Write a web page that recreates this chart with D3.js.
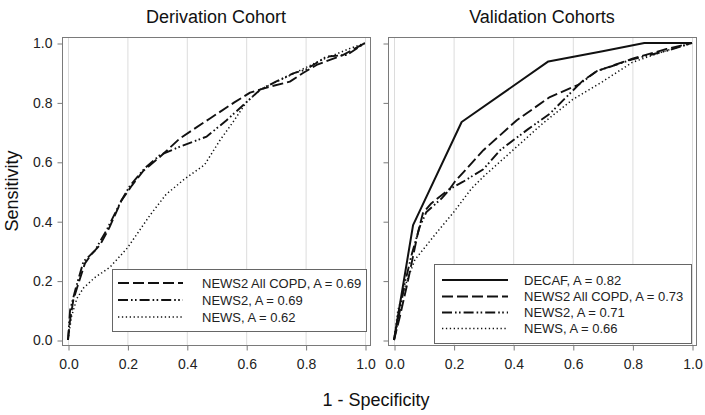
<!DOCTYPE html>
<html>
<head>
<meta charset="utf-8">
<script src="https://cdn.jsdelivr.net/npm/d3@7/dist/d3.min.js"></script>
<style>
  html, body { margin: 0; padding: 0; background: #fff; }
  svg { display: block; font-family: "Liberation Sans", Arial, sans-serif; }
</style>
</head>
<body>
<svg id="chart" width="705" height="415"></svg>
<script>
// ---------- DATA ----------
const tickValues = [0.0, 0.2, 0.4, 0.6, 0.8, 1.0];
const panelTitles = ["Derivation Cohort", "Validation Cohorts"];
const xAxisTitle = "1 - Specificity";
const yAxisTitle = "Sensitivity";

// Derivation cohort  [1-specificity, sensitivity]
const derivNews2AllCopd = [[0,0],[0.006,0.06],[0.018,0.135],[0.035,0.19],[0.057,0.258],[0.08,0.29],[0.108,0.32],[0.14,0.38],[0.18,0.47],[0.215,0.52],[0.254,0.57],[0.31,0.617],[0.377,0.679],[0.478,0.746],[0.56,0.8],[0.613,0.833],[0.68,0.853],[0.747,0.87],[0.79,0.898],[0.837,0.926],[0.927,0.96],[1,1]];
const derivNews2 = [[0,0],[0.007,0.10],[0.025,0.17],[0.052,0.264],[0.09,0.30],[0.13,0.37],[0.18,0.47],[0.209,0.52],[0.26,0.58],[0.31,0.623],[0.377,0.651],[0.467,0.685],[0.534,0.74],[0.60,0.80],[0.646,0.842],[0.70,0.87],[0.758,0.898],[0.80,0.91],[0.87,0.954],[0.94,0.96],[1,1]];
const derivNews = [[0,0],[0.012,0.08],[0.03,0.14],[0.052,0.175],[0.09,0.21],[0.141,0.245],[0.2,0.31],[0.276,0.42],[0.33,0.49],[0.39,0.54],[0.46,0.59],[0.51,0.67],[0.56,0.74],[0.6,0.80],[0.65,0.845],[0.75,0.892],[0.84,0.937],[0.95,0.982],[1,1]];

// Validation cohorts
const valDecaf = [[0,0],[0.064,0.387],[0.227,0.734],[0.518,0.938],[0.70,0.972],[0.84,1.0],[1,1]];
const valNews2AllCopd = [[0,0],[0.02,0.08],[0.047,0.20],[0.08,0.36],[0.097,0.427],[0.125,0.46],[0.188,0.51],[0.204,0.533],[0.30,0.639],[0.412,0.74],[0.523,0.818],[0.62,0.86],[0.635,0.874],[0.68,0.905],[0.80,0.947],[0.915,0.98],[1,1]];
const valNews2 = [[0,0],[0.02,0.10],[0.036,0.19],[0.06,0.29],[0.086,0.38],[0.108,0.43],[0.16,0.477],[0.19,0.51],[0.232,0.533],[0.30,0.575],[0.356,0.639],[0.45,0.71],[0.523,0.762],[0.62,0.86],[0.68,0.905],[0.80,0.945],[0.92,0.975],[1,1]];
const valNews = [[0,0],[0.013,0.10],[0.04,0.19],[0.07,0.27],[0.15,0.37],[0.2,0.43],[0.26,0.51],[0.3,0.55],[0.4,0.64],[0.5,0.73],[0.6,0.81],[0.7,0.87],[0.8,0.935],[0.9,0.97],[1,1]];

const derivLabels = ["NEWS2 All COPD, A = 0.69", "NEWS2, A = 0.69", "NEWS, A = 0.62"];
const valLabels = ["DECAF, A = 0.82", "NEWS2 All COPD, A = 0.73", "NEWS2, A = 0.71", "NEWS, A = 0.66"];

// ---------- STYLES ----------
const styles = {
  solid:   { dash: null, width: 2 },
  dashed:  { dash: "11,4", width: 1.9 },
  dashdot: { dash: "10,3,1.6,2.4,1.6,3", width: 1.9 },
  dotted:  { dash: "1.3,2.6", width: 1.5 }
};

const svg = d3.select("#chart");

const panels = [
  { left: 62, right: 370, x0: 68, x1: 365, title: panelTitles[0], labels: true,
    series: [derivNews2AllCopd, derivNews2, derivNews],
    styleKeys: ["dashed", "dashdot", "dotted"], legend: derivLabels,
    legendBox: { x: 112, y: 269, w: 254, h: 62, textX: 202, sx0: 118, sx1: 183, rowY: [283, 300, 317] } },
  { left: 388, right: 696, x0: 394, x1: 692, title: panelTitles[1], labels: false,
    series: [valDecaf, valNews2AllCopd, valNews2, valNews],
    styleKeys: ["solid", "dashed", "dashdot", "dotted"], legend: valLabels,
    legendBox: { x: 434, y: 264, w: 257, h: 79, textX: 524, sx0: 442, sx1: 508, rowY: [280, 296.5, 312.5, 328.5] } }
];

const plotTop = 37, plotBottom = 345;
const yScale = d3.scaleLinear().domain([0, 1]).range([340, 43]);

panels.forEach((p, i) => {
  const x = d3.scaleLinear().domain([0, 1]).range([p.x0, p.x1]);
  const g = svg.append("g");

  // grid (vertical only)
  g.selectAll("line.grid").data(tickValues).enter().append("line")
    .attr("x1", d => x(d) + 0.5).attr("x2", d => x(d) + 0.5)
    .attr("y1", plotTop).attr("y2", plotBottom)
    .attr("stroke", "#dcdcdc").attr("stroke-width", 1);

  // clip
  const clipId = "clip" + i;
  svg.append("clipPath").attr("id", clipId).append("rect")
    .attr("x", p.left).attr("y", plotTop).attr("width", p.right - p.left).attr("height", plotBottom - plotTop);

  // curves
  const line = d3.line().x(d => x(d[0])).y(d => yScale(d[1]));
  p.series.forEach((s, k) => {
    const st = styles[p.styleKeys[k]];
    g.append("path").datum(s)
      .attr("clip-path", `url(#${clipId})`)
      .attr("d", line)
      .attr("fill", "none")
      .attr("stroke", "#111")
      .attr("stroke-width", st.width)
      .attr("stroke-linejoin", "round")
      .attr("stroke-dasharray", st.dash);
  });

  // frame
  g.append("rect").attr("x", p.left + 0.5).attr("y", plotTop + 0.5)
    .attr("width", p.right - p.left).attr("height", plotBottom - plotTop)
    .attr("fill", "none").attr("stroke", "#7a7a7a").attr("stroke-width", 1);

  // x axis
  const xAxis = d3.axisBottom(x).tickValues(tickValues).tickFormat(d3.format(".1f")).tickSize(5).tickPadding(9);
  const xg = g.append("g").attr("transform", `translate(0.5,${plotBottom + 0.5})`).call(xAxis);
  xg.select(".domain").remove();
  xg.selectAll(".tick line").attr("stroke", "#7a7a7a");
  xg.selectAll(".tick text").attr("font-size", 14).attr("fill", "#222")
    .attr("font-family", "Liberation Sans, Arial, sans-serif");

  // y axis
  const yAxis = d3.axisLeft(yScale).tickValues(tickValues).tickSize(5).tickPadding(5)
    .tickFormat(p.labels ? d3.format(".1f") : () => "");
  const yg = g.append("g").attr("transform", `translate(${p.left + 0.5},0.5)`).call(yAxis);
  yg.select(".domain").remove();
  yg.selectAll(".tick line").attr("stroke", "#7a7a7a");
  yg.selectAll(".tick text").attr("font-size", 14).attr("fill", "#222")
    .attr("font-family", "Liberation Sans, Arial, sans-serif");

  // title
  g.append("text").attr("x", (p.left + p.right) / 2).attr("y", 23)
    .attr("text-anchor", "middle").attr("font-size", 18).attr("fill", "#111")
    .text(p.title);

  // legend
  const lb = p.legendBox;
  g.append("rect").attr("x", lb.x + 0.5).attr("y", lb.y + 0.5).attr("width", lb.w).attr("height", lb.h)
    .attr("fill", "#fff").attr("stroke", "#666").attr("stroke-width", 1);
  p.legend.forEach((lab, k) => {
    const st = styles[p.styleKeys[k]];
    g.append("line").attr("x1", lb.sx0).attr("x2", lb.sx1)
      .attr("y1", lb.rowY[k]).attr("y2", lb.rowY[k])
      .attr("stroke", "#111").attr("stroke-width", st.width)
      .attr("stroke-dasharray", st.dash);
    g.append("text").attr("x", lb.textX).attr("y", lb.rowY[k] + 4.6)
      .attr("font-size", 13).attr("fill", "#222").text(lab);
  });
});

// axis titles
svg.append("text").attr("x", 376).attr("y", 406).attr("text-anchor", "middle")
  .attr("font-size", 18).attr("fill", "#111").text(xAxisTitle);
svg.append("text").attr("transform", "translate(18,191) rotate(-90)").attr("text-anchor", "middle")
  .attr("font-size", 18).attr("fill", "#111").text(yAxisTitle);
</script>
</body>
</html>
